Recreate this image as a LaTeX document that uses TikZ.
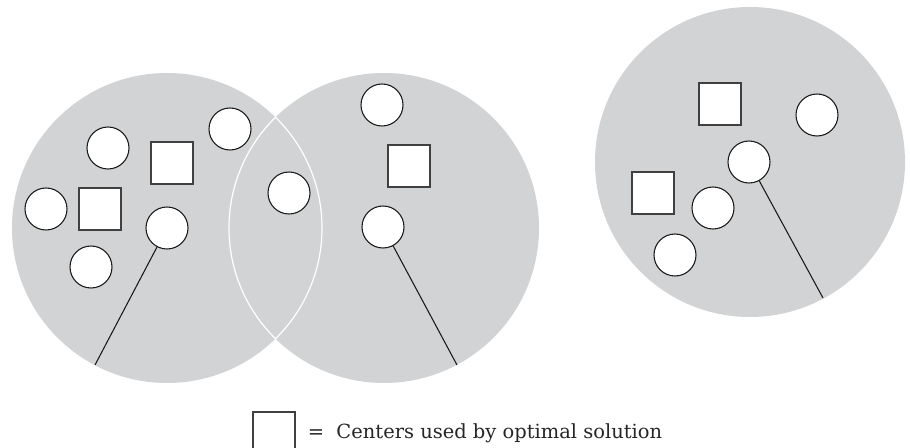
\documentclass[tikz,border=0pt]{standalone}
\usepackage{tikz}
\usepackage{fontspec}
\usetikzlibrary{positioning}
\newfontfamily\keyfont{DejaVu Serif}
\definecolor{regiongray}{RGB}{209,211,212}

\begin{document}
\begin{tikzpicture}[x=0.75pt, y=-0.75pt,
    region/.style={fill=regiongray},
    rim/.style={draw=white, line width=0.9pt},
    point/.style={circle, draw=black!90, fill=white, line width=0.8pt, minimum size=31.5pt, inner sep=0pt},
    optbox/.style={rectangle, draw=black!75, fill=white, line width=0.8pt, minimum size=31.5pt, inner sep=0pt},
    radline/.style={draw=black!90, line width=0.8pt}]

    \useasboundingbox (0,0) rectangle (910,448);

    % the three balls
    \coordinate (o1) at (167,228);
    \coordinate (o2) at (384,228);
    \coordinate (o3) at (750,162);
    \fill[region] (o1) circle (116.25pt);
    \fill[region] (o2) circle (116.25pt);
    \fill[region] (o3) circle (116.25pt);

    % white rims where the first two overlap
    \begin{scope}
        \clip (o2) circle (116.25pt);
        \draw[rim] (o1) circle (116.25pt);
    \end{scope}
    \begin{scope}
        \clip (o1) circle (116.25pt);
        \draw[rim] (o2) circle (116.25pt);
    \end{scope}

    % first ball
    \node[optbox] (a1) at (172,163) {};
    \node[optbox] (a2) at (100,209) {};
    \node[point] (p1) at (108,148) {};
    \node[point] (p2) at (230,129) {};
    \node[point] (p3) at (46,209) {};
    \node[point] (p4) at (167,228) {};
    \node[point] (p5) at (91,267) {};
    \node[point] (p6) at (289,193) {};

    % second ball
    \node[optbox] (b1) at (409,166) {};
    \node[point] (q1) at (382,105) {};
    \node[point] (q2) at (383,227) {};

    % third ball
    \node[optbox] (c1) at (720,104) {};
    \node[optbox] (c2) at (653,193) {};
    \node[point] (s1) at (817,115) {};
    \node[point] (s2) at (749,162) {};
    \node[point] (s3) at (713,208) {};
    \node[point] (s4) at (675,255) {};

    % radii
    \coordinate (e1) at (95,365);
    \coordinate (e2) at (457,365);
    \coordinate (e3) at (823,298);
    \draw[radline] (p4) -- (e1);
    \draw[radline] (q2) -- (e2);
    \draw[radline] (s2) -- (e3);

    % key
    \node[optbox] (key) at (274,433) {};
    \node[right=9pt of key, inner sep=0pt, font=\keyfont\fontsize{14.6}{18}\selectfont, text=black!85] (keytext) {= \ Centers used by optimal solution};
\end{tikzpicture}
\end{document}
